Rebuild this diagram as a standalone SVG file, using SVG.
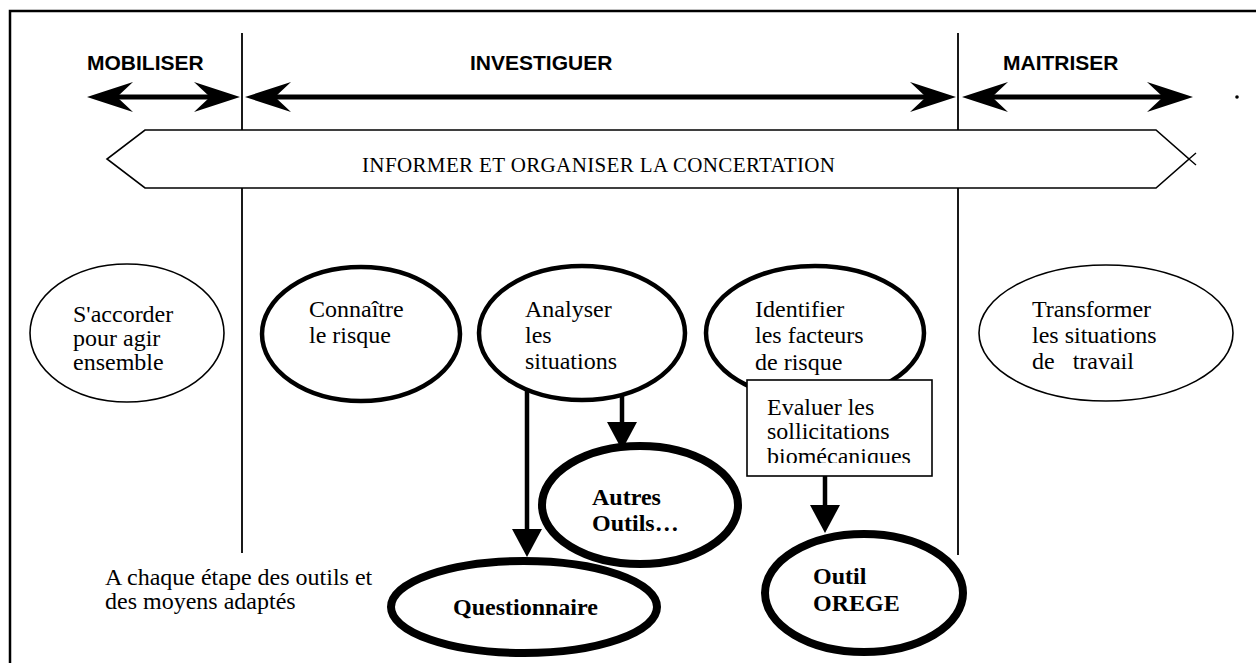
<svg xmlns="http://www.w3.org/2000/svg" width="1256" height="663" viewBox="0 0 1256 663">
<style>
.hd{font-family:"Liberation Sans",Arial,sans-serif;font-weight:bold;font-size:21px;fill:#000}
.t{font-family:"Liberation Serif","Times New Roman",serif;font-size:24px;fill:#000;white-space:pre}
.tb{font-family:"Liberation Serif","Times New Roman",serif;font-size:24px;font-weight:bold;fill:#000}
.thin{fill:#fff;stroke:#000;stroke-width:1.6}
.mid{fill:#fff;stroke:#000;stroke-width:4.5}
.fat{fill:#fff;stroke:#000;stroke-width:8}
.line{stroke:#000;stroke-width:1.8;fill:none}
.phase{stroke:#000;stroke-width:5;fill:none;marker-start:url(#barb);marker-end:url(#barb)}
.conn{stroke:#000;stroke-width:4.5;fill:none;marker-end:url(#tri)}
</style>
<defs>
<marker id="barb" markerUnits="userSpaceOnUse" viewBox="-20 -16 52 32" refX="0" refY="0" markerWidth="52" markerHeight="32" orient="auto-start-reverse">
<path d="M30,0 L-16,-15 L0,0 L-16,15 Z" fill="#000"/>
</marker>
<marker id="tri" markerUnits="userSpaceOnUse" viewBox="0 -16 30 32" refX="0" refY="0" markerWidth="30" markerHeight="32" orient="auto">
<path d="M0,-15 L28,0 L0,15 Z" fill="#000"/>
</marker>
<clipPath id="clipRisque"><rect x="700" y="250" width="240" height="125"/></clipPath>
<clipPath id="clipEval"><rect x="747" y="380" width="185" height="83"/></clipPath>
</defs>
<rect width="1256" height="663" fill="#fff"/>
<g id="frame">
<path class="line" d="M10,665 V11 H1258" style="stroke-width:2.5"/>
<line class="line" x1="242" y1="33" x2="242" y2="553"/>
<line class="line" x1="958" y1="33" x2="958" y2="555"/>
<circle cx="1237" cy="97" r="1.8" fill="#000"/>
</g>
<g id="phases">
<text class="hd" x="87" y="70">MOBILISER</text>
<text class="hd" x="470" y="70">INVESTIGUER</text>
<text class="hd" x="1003" y="70">MAITRISER</text>
</g>
<g id="connectors">
<line class="phase" x1="117" y1="97" x2="210" y2="97"/>
<line class="phase" x1="275" y1="97" x2="926" y2="97"/>
<line class="phase" x1="992" y1="97" x2="1163" y2="97"/>
<line class="conn" x1="527" y1="390" x2="527" y2="529"/>
<line class="conn" x1="622" y1="395" x2="622" y2="422"/>
<line class="conn" x1="825" y1="476" x2="825" y2="505"/>
</g>
<g id="banner">
<path class="thin" d="M145,130 H1156 L1189,159 L1156,188 H145 L107,159 Z"/>
<path class="line" d="M1189,159 L1196,165 M1189,159 L1196,153" style="stroke-width:1.4"/>
<text class="t" x="362" y="172" style="font-size:21px" textLength="473">INFORMER ET ORGANISER LA CONCERTATION</text>
</g>
<g id="n-accorder">
<ellipse class="thin" cx="127" cy="333" rx="97" ry="69"/>
<text class="t" x="73" y="322">S'accorder</text>
<text class="t" x="73" y="346">pour agir</text>
<text class="t" x="73" y="370">ensemble</text>
</g>
<g id="n-connaitre">
<ellipse class="mid" cx="361" cy="334" rx="99" ry="67"/>
<text class="t" x="309" y="317">Connaître</text>
<text class="t" x="309" y="343">le risque</text>
</g>
<g id="n-analyser">
<ellipse class="mid" cx="582" cy="333" rx="103" ry="67"/>
<text class="t" x="525" y="317">Analyser</text>
<text class="t" x="525" y="343">les</text>
<text class="t" x="525" y="369">situations</text>
</g>
<g id="n-identifier">
<ellipse class="mid" cx="815" cy="333" rx="109" ry="67"/>
<text class="t" x="755" y="317">Identifier</text>
<text class="t" x="755" y="343">les facteurs</text>
<text class="t" x="755" y="370" clip-path="url(#clipRisque)">de risque</text>
</g>
<g id="n-transformer">
<ellipse class="thin" cx="1106" cy="333" rx="127" ry="68"/>
<text class="t" x="1032" y="317">Transformer</text>
<text class="t" x="1032" y="343">les situations</text>
<text class="t" x="1032" y="369">de   travail</text>
</g>
<g id="n-evaluer">
<rect class="thin" x="747" y="380" width="185" height="96"/>
<g clip-path="url(#clipEval)">
<text class="t" x="767" y="415">Evaluer les</text>
<text class="t" x="767" y="439">sollicitations</text>
<text class="t" x="767" y="464">biomécaniques</text>
</g>
</g>
<g id="n-autres">
<ellipse class="fat" cx="640" cy="505" rx="98" ry="59"/>
<text class="tb" x="592" y="505">Autres</text>
<text class="tb" x="592" y="531">Outils…</text>
</g>
<g id="n-questionnaire">
<ellipse class="fat" cx="524" cy="607" rx="133" ry="46"/>
<text class="tb" x="453" y="615">Questionnaire</text>
</g>
<g id="n-orege">
<ellipse class="fat" cx="864" cy="593" rx="99" ry="59"/>
<text class="tb" x="813" y="584">Outil</text>
<text class="tb" x="813" y="611">OREGE</text>
</g>
<g id="note">
<text class="t" x="105" y="585">A chaque étape des outils et</text>
<text class="t" x="105" y="609">des moyens adaptés</text>
</g>
</svg>
